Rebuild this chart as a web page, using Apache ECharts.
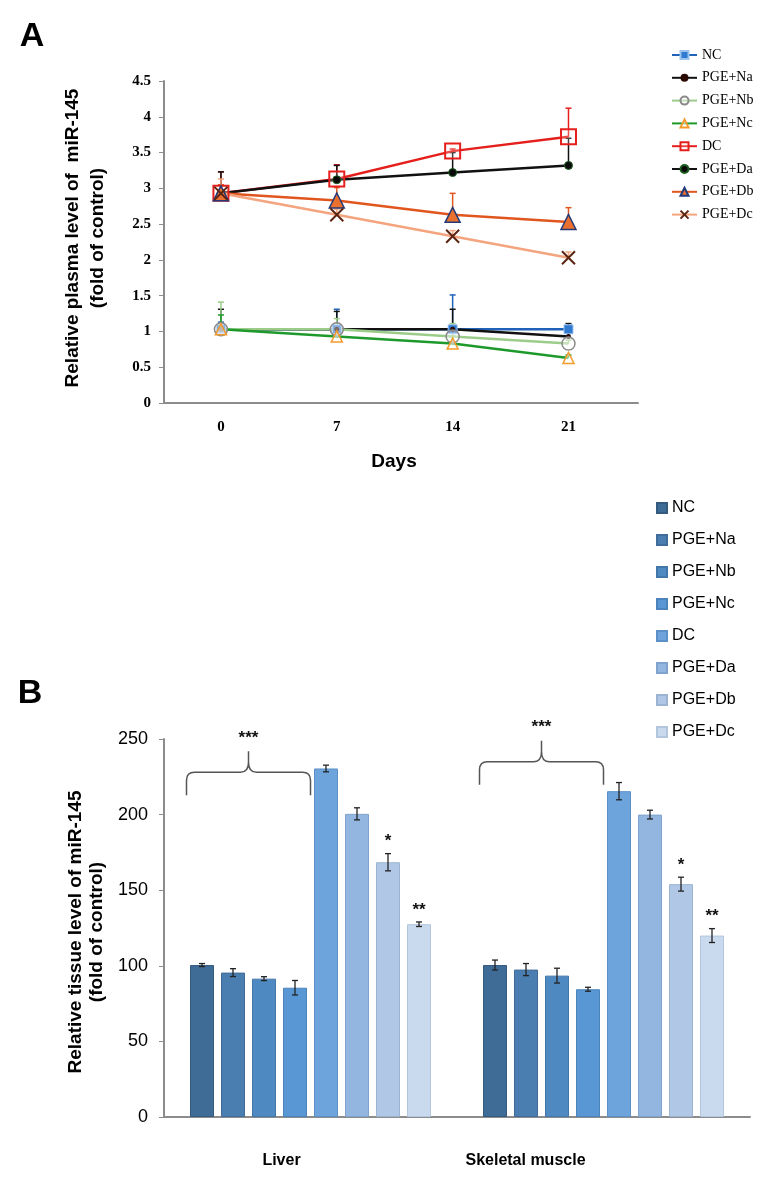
<!DOCTYPE html>
<html>
<head>
<meta charset="UTF-8">
<title>miR-145</title>
<script src="https://cdn.jsdelivr.net/npm/echarts@6/dist/echarts.min.js"></script>
<style>
html, body { margin: 0; padding: 0; background: #fff; }
#main { width: 771px; height: 1191px; }
</style>
</head>
<body>
<div id="main"></div>
<script>
// ---- panel A : plasma level over days ----
var days = [0, 7, 14, 21];
var lineNames = ['NC', 'PGE+Na', 'PGE+Nb', 'PGE+Nc', 'DC', 'PGE+Da', 'PGE+Db', 'PGE+Dc'];
var plasmaNC = [1.03, 1.03, 1.03, 1.03];
var plasmaNa = [1.03, 1.03, 1.03, 0.93];
var plasmaNb = [1.03, 1.03, 0.93, 0.83];
var plasmaNc = [1.03, 0.93, 0.83, 0.63];
var plasmaDC = [2.93, 3.13, 3.52, 3.72];
var plasmaDa = [2.93, 3.12, 3.22, 3.32];
var plasmaDb = [2.93, 2.83, 2.63, 2.53];
var plasmaDc = [2.93, 2.63, 2.33, 2.03];
var errNC = [0.1, 0.28, 0.48, 0.05];
var errNa = [0.28, 0.25, 0.28, 0.18];
var errNb = [0.38, 0.15, 0.18, 0.05];
var errNc = [0.2, 0.05, 0.1, 0.04];
var errDC = [0.3, 0.2, 0.03, 0.4];
var errDa = [0.3, 0.2, 0.28, 0.38];
var errDb = [0.12, 0.18, 0.3, 0.2];
var errDc = [0.2, 0.08, 0.08, 0.08];
var yTicksA = { min: 0, max: 4.5, step: 0.5 };

// ---- panel B : tissue level ----
var tissues = ['Liver', 'Skeletal muscle'];
var barNames = ['NC', 'PGE+Na', 'PGE+Nb', 'PGE+Nc', 'DC', 'PGE+Da', 'PGE+Db', 'PGE+Dc'];
var liverVals = [100.5, 95.5, 91.5, 85.5, 230.5, 200.5, 168.5, 127.5];
var liverErr = [1, 2.6, 1.3, 4.8, 2.2, 4, 5.7, 1.5];
var muscleVals = [100.5, 97.5, 93.5, 84.5, 215.5, 200, 154, 120];
var muscleErr = [3.3, 4, 4.9, 1.3, 5.7, 2.9, 4.6, 4.6];
var liverStars = ['', '', '', '', '', '', '*', '**'];
var muscleStars = ['', '', '', '', '', '', '*', '**'];
var bracketLevel = [228, 235];
var bracketStars = ['***', '***'];
var yTicksB = { min: 0, max: 250, step: 50 };

var BAR_W = 24, BAR_GAP = 7, PITCH = BAR_W + BAR_GAP;
var barColors = ['#3f6b97', '#4a7eb0', '#4f89c2', '#5897d3', '#6ea4dc', '#93b6e0', '#b0c8e6', '#c9d9ee'];
var barBorders = ['#345a80', '#3f6c98', '#4477a9', '#4b84bb', '#5c91c8', '#7fa3cc', '#9bb4d2', '#b2c6de'];

var axisGray = '#8c8c8c';
var serif = '"Liberation Serif", "Times New Roman", serif';
var sans = '"Liberation Sans", Arial, sans-serif';

var lineStyles = [
  { data: plasmaNC, err: errNC, color: '#1f62b8', symbol: 'rect', size: 9, fill: '#2f7ad0', border: '#9cc3ee', bw: 1 },
  { data: plasmaNa, err: errNa, color: '#111111', symbol: 'circle', size: 5, fill: '#2a0a00', border: '#2a0a00', bw: 0 },
  { data: plasmaNb, err: errNb, color: '#9ccc8a', symbol: 'circle', size: 13, fill: 'rgba(255,255,255,0.4)', border: '#8a8a8a', bw: 1.5 },
  { data: plasmaNc, err: errNc, color: '#1e9a2c', symbol: 'triangle', size: 11, fill: 'rgba(255,255,255,0.5)', border: '#f39a2c', bw: 1.5 },
  { data: plasmaDC, err: errDC, color: '#e5201c', symbol: 'rect', size: 15, fill: 'rgba(255,255,255,0.2)', border: '#e5201c', bw: 2 },
  { data: plasmaDa, err: errDa, color: '#111111', symbol: 'circle', size: 8, fill: '#0a0a0a', border: '#1b5e20', bw: 1 },
  { data: plasmaDb, err: errDb, color: '#e0561e', symbol: 'triangle', size: 15, fill: '#ea7030', border: '#233a78', bw: 1.5 },
  { data: plasmaDc, err: errDc, color: '#f4a47e', symbol: 'path://M0,0L10,10M10,0L0,10', size: 13, fill: 'none', border: '#5a2410', bw: 2 }
];

var series = [];

// error bars of panel A (upper whisker only)
lineStyles.forEach(function (s) {
  series.push({
    type: 'custom',
    xAxisIndex: 0, yAxisIndex: 0,
    z: 1,
    silent: true,
    data: days.map(function (d, k) { return [d, s.data[k], s.err[k]]; }),
    encode: { x: 0, y: 1 },
    renderItem: function (params, api) {
      var p0 = api.coord([api.value(0), api.value(1)]);
      var p1 = api.coord([api.value(0), api.value(1) + api.value(2)]);
      var st = { stroke: s.color, lineWidth: 1.5 };
      return {
        type: 'group',
        children: [
          { type: 'line', shape: { x1: p0[0], y1: p0[1], x2: p1[0], y2: p1[1] }, style: st },
          { type: 'line', shape: { x1: p1[0] - 3, y1: p1[1], x2: p1[0] + 3, y2: p1[1] }, style: st }
        ]
      };
    }
  });
});

lineStyles.forEach(function (s, i) {
  series.push({
    name: lineNames[i],
    type: 'line',
    xAxisIndex: 0, yAxisIndex: 0,
    z: 3,
    data: days.map(function (d, k) { return [d, s.data[k]]; }),
    symbol: s.symbol,
    symbolSize: s.size,
    showAllSymbol: true,
    lineStyle: { color: s.color, width: 2.5 },
    itemStyle: { color: s.fill, borderColor: s.border, borderWidth: s.bw },
    emphasis: { disabled: true }
  });
});

// bars of panel B
barNames.forEach(function (n, i) {
  series.push({
    name: 'B:' + n,
    type: 'bar',
    xAxisIndex: 1, yAxisIndex: 1,
    barWidth: BAR_W,
    barGap: (BAR_GAP / BAR_W * 100) + '%',
    data: [liverVals[i], muscleVals[i]],
    itemStyle: { color: barColors[i], borderColor: barBorders[i], borderWidth: 1 },
    emphasis: { disabled: true }
  });
});

// error bars + significance stars of panel B
var errRows = [];
tissues.forEach(function (t, c) {
  var vals = c === 0 ? liverVals : muscleVals;
  var errs = c === 0 ? liverErr : muscleErr;
  var stars = c === 0 ? liverStars : muscleStars;
  barNames.forEach(function (n, i) {
    errRows.push({ value: [c, vals[i], errs[i], i], star: stars[i] });
  });
});
series.push({
  type: 'custom',
  xAxisIndex: 1, yAxisIndex: 1,
  z: 5,
  silent: true,
  data: errRows.map(function (r) { return r.value; }),
  encode: { x: 0, y: 1 },
  renderItem: function (params, api) {
    var c = api.value(0), v = api.value(1), e = api.value(2), i = api.value(3);
    var base = api.coord([c, v]);
    var x = base[0] + (i - 3.5) * PITCH;
    var yt = api.coord([c, v + e])[1];
    var yb = api.coord([c, v - e])[1];
    var st = { stroke: '#222', lineWidth: 1.3 };
    var kids = [
      { type: 'line', shape: { x1: x, y1: yt, x2: x, y2: yb }, style: st },
      { type: 'line', shape: { x1: x - 3, y1: yt, x2: x + 3, y2: yt }, style: st },
      { type: 'line', shape: { x1: x - 3, y1: yb, x2: x + 3, y2: yb }, style: st }
    ];
    var star = errRows[params.dataIndex].star;
    if (star) {
      kids.push({
        type: 'text',
        style: { text: star, x: x, y: yt - 12, align: 'center', verticalAlign: 'middle',
                 font: 'bold 17px ' + sans, fill: '#111' }
      });
    }
    return { type: 'group', children: kids };
  }
});

// curly brackets over the four control bars
series.push({
  type: 'custom',
  xAxisIndex: 1, yAxisIndex: 1,
  z: 5,
  silent: true,
  data: bracketLevel.map(function (l, c) { return [c, l]; }),
  encode: { x: 0, y: 1 },
  renderItem: function (params, api) {
    var p = api.coord([api.value(0), api.value(1)]);
    var cx = p[0] - 2 * PITCH, y = p[1], h = 2 * PITCH;
    var l = cx - h, r = cx + h;
    var d = 'M' + l + ',' + (y + 23) +
      ' L' + l + ',' + (y + 8) + ' Q' + l + ',' + y + ' ' + (l + 8) + ',' + y +
      ' L' + (cx - 8) + ',' + y + ' Q' + cx + ',' + y + ' ' + cx + ',' + (y - 10) +
      ' L' + cx + ',' + (y - 21) + ' M' + cx + ',' + (y - 10) +
      ' Q' + cx + ',' + y + ' ' + (cx + 8) + ',' + y +
      ' L' + (r - 8) + ',' + y + ' Q' + r + ',' + y + ' ' + r + ',' + (y + 8) +
      ' L' + r + ',' + (y + 23);
    return {
      type: 'group',
      children: [
        { type: 'path', shape: { pathData: d }, style: { stroke: '#555', lineWidth: 1.5, fill: null } },
        { type: 'text', style: { text: bracketStars[params.dataIndex], x: cx, y: y - 34, align: 'center',
          verticalAlign: 'middle', font: 'bold 17px ' + sans, fill: '#111' } }
      ]
    };
  }
});

var chart = echarts.init(document.getElementById('main'), null, { renderer: 'canvas' });
chart.setOption({
  backgroundColor: '#fff',
  animation: false,
  grid: [
    { left: 164, top: 81, width: 474, height: 322 },
    { left: 164, top: 739, width: 586, height: 378 }
  ],
  legend: [
    {
      data: lineNames,
      orient: 'vertical',
      left: 666, top: 43,
      itemWidth: 25, itemHeight: 10, itemGap: 8.8,
      textStyle: { fontFamily: serif, fontSize: 14, color: '#000', lineHeight: 14 },
      selectedMode: false
    },
    {
      data: barNames.map(function (n) { return 'B:' + n; }),
      formatter: function (n) { return n.slice(2); },
      orient: 'vertical',
      left: 651, top: 494,
      icon: 'rect',
      itemWidth: 10, itemHeight: 10, itemGap: 14,
      textStyle: { fontFamily: sans, fontSize: 16, color: '#000', lineHeight: 18 },
      selectedMode: false
    }
  ],
  xAxis: [
    {
      gridIndex: 0, type: 'value', min: -3.44, max: 25.2,
      axisLine: { onZero: false, lineStyle: { color: axisGray, width: 2 } },
      axisTick: { show: false },
      splitLine: { show: false },
      axisLabel: { customValues: days, margin: 17, color: '#000', fontFamily: serif, fontWeight: 'bold', fontSize: 15 }
    },
    {
      gridIndex: 1, type: 'category', data: tissues,
      axisLine: { lineStyle: { color: axisGray, width: 2 } },
      axisTick: { show: false },
      axisLabel: {
        margin: 36, color: '#000', fontFamily: sans, fontWeight: 'bold', fontSize: 16,
        formatter: function (v) { return v === 'Liver' ? '{a|' + v + '}' : '{b|' + v + '}'; },
        rich: {
          a: { padding: [0, 58, 0, 0], fontFamily: sans, fontWeight: 'bold', fontSize: 16, color: '#000' },
          b: { padding: [0, 156, 0, 0], fontFamily: sans, fontWeight: 'bold', fontSize: 16, color: '#000' }
        }
      }
    }
  ],
  yAxis: [
    {
      gridIndex: 0, type: 'value', min: yTicksA.min, max: yTicksA.max, interval: yTicksA.step,
      axisLine: { show: true, onZero: false, lineStyle: { color: axisGray, width: 2 } },
      axisTick: { show: true, length: 5, lineStyle: { color: axisGray } },
      splitLine: { show: false },
      axisLabel: { margin: 13, color: '#000', fontFamily: serif, fontWeight: 'bold', fontSize: 15 }
    },
    {
      gridIndex: 1, type: 'value', min: yTicksB.min, max: yTicksB.max, interval: yTicksB.step,
      axisLine: { show: true, onZero: false, lineStyle: { color: axisGray, width: 2 } },
      axisTick: { show: true, length: 5, lineStyle: { color: axisGray } },
      splitLine: { show: false },
      axisLabel: { margin: 16, color: '#000', fontFamily: sans, fontSize: 18 }
    }
  ],
  graphic: [
    { type: 'text', x: 32, y: 37, style: { text: 'A', font: 'bold 34px ' + sans, fill: '#000', align: 'center', verticalAlign: 'middle' } },
    { type: 'text', x: 30, y: 694, style: { text: 'B', font: 'bold 34px ' + sans, fill: '#000', align: 'center', verticalAlign: 'middle' } },
    { type: 'text', x: 85, y: 238, rotation: Math.PI / 2,
      style: { text: 'Relative plasma level of  miR-145\n(fold of control)', font: 'bold 19px ' + sans,
               lineHeight: 25, fill: '#000', align: 'center', verticalAlign: 'middle' } },
    { type: 'text', x: 394, y: 462, style: { text: 'Days', font: 'bold 19px ' + sans, fill: '#000', align: 'center', verticalAlign: 'middle' } },
    { type: 'text', x: 86, y: 932, rotation: Math.PI / 2,
      style: { text: 'Relative tissue level of miR-145\n(fold of control)', font: 'bold 19px ' + sans,
               lineHeight: 21, fill: '#000', align: 'center', verticalAlign: 'middle' } }
  ],
  series: series
});
</script>
</body>
</html>
